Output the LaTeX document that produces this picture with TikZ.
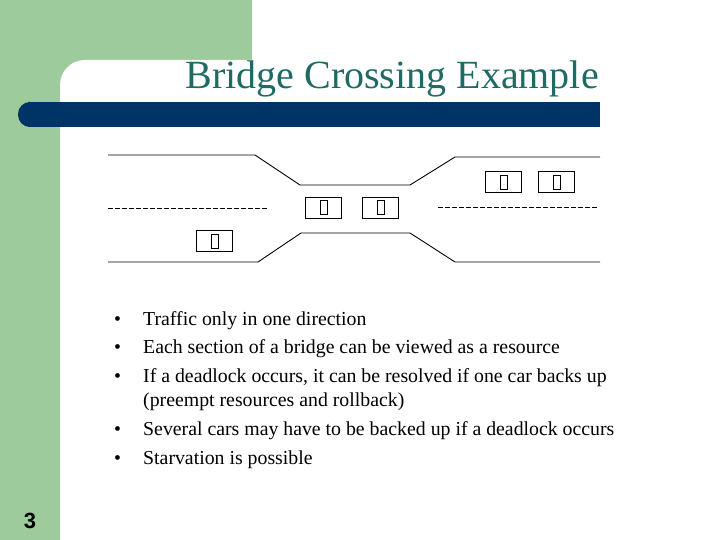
\documentclass[tikz,border=0pt]{standalone}
\usepackage{fontspec}
\setmainfont{Liberation Serif}
\newfontfamily\sansf{Liberation Sans}
\begin{document}
\begin{tikzpicture}[x=1pt,y=-1pt,
  road/.style={line width=0.9pt},
  lane/.style={line width=0.9pt,dash pattern=on 5pt off 2pt},
  carbox/.style={draw,line width=0.9pt,minimum width=36pt,minimum height=21pt,inner sep=0pt},
  bl/.style={anchor=base west,inner sep=0pt,font=\fontsize{19.8}{22}\selectfont}]
\useasboundingbox (0,0) rectangle (720,540);
\definecolor{grn}{HTML}{9DCB9B}
\definecolor{navy}{HTML}{003366}
\definecolor{ttl}{HTML}{1F6B63}
\fill[grn] (0,0) rectangle (252,130);
\fill[grn] (0,0) rectangle (60,540);
\fill[white] (60,85) arc[start angle=180,end angle=270,radius=25] -- (320,60) -- (320,200) -- (60,200) -- cycle;
\fill[navy,rounded corners=12pt] (18,102) rectangle (40,127);
\fill[navy] (30,102) rectangle (600,127);
\node[anchor=base east,inner sep=0pt,text=ttl,font=\fontsize{40}{44}\selectfont] (title) at (599,89) {Bridge Crossing Example};
\draw[road] (108,155) -- (255,155) -- (300,185) -- (410,185) -- (455,157) -- (600,157);
\draw[road] (108,262) -- (258,262) -- (301,233) -- (410,233) -- (455,262) -- (600,262);
\draw[lane] (108,208) -- (267,208);
\draw[lane] (438,207) -- (597,207);
\foreach \n/\x/\y in {c1/214/241, c2/323/207.5, c3/380/207.5, c4/503/182, c5/556/182}{
  \node[carbox] (\n) at (\x,\y) {};
  \draw[line width=0.8pt] ([xshift=1pt]\n.center) ++(-3.5,-7) rectangle ++(7,14);
}
\foreach \t/\y in {{Traffic only in one direction}/325,{Each section of a bridge can be viewed as a resource}/353,{If a deadlock occurs, it can be resolved if one car backs up}/382,{Several cars may have to be backed up if a deadlock occurs}/435,{Starvation is possible}/464}{
  \node[bl] at (114,\y) {•};
  \node[bl] at (143,\y) {\t};
}
\node[bl] (p) at (143,406) {(preempt resources and rollback)};
\node[anchor=base,font=\sansf\bfseries\fontsize{22}{24}\selectfont] (num) at (30,528) {3};
\end{tikzpicture}
\end{document}
